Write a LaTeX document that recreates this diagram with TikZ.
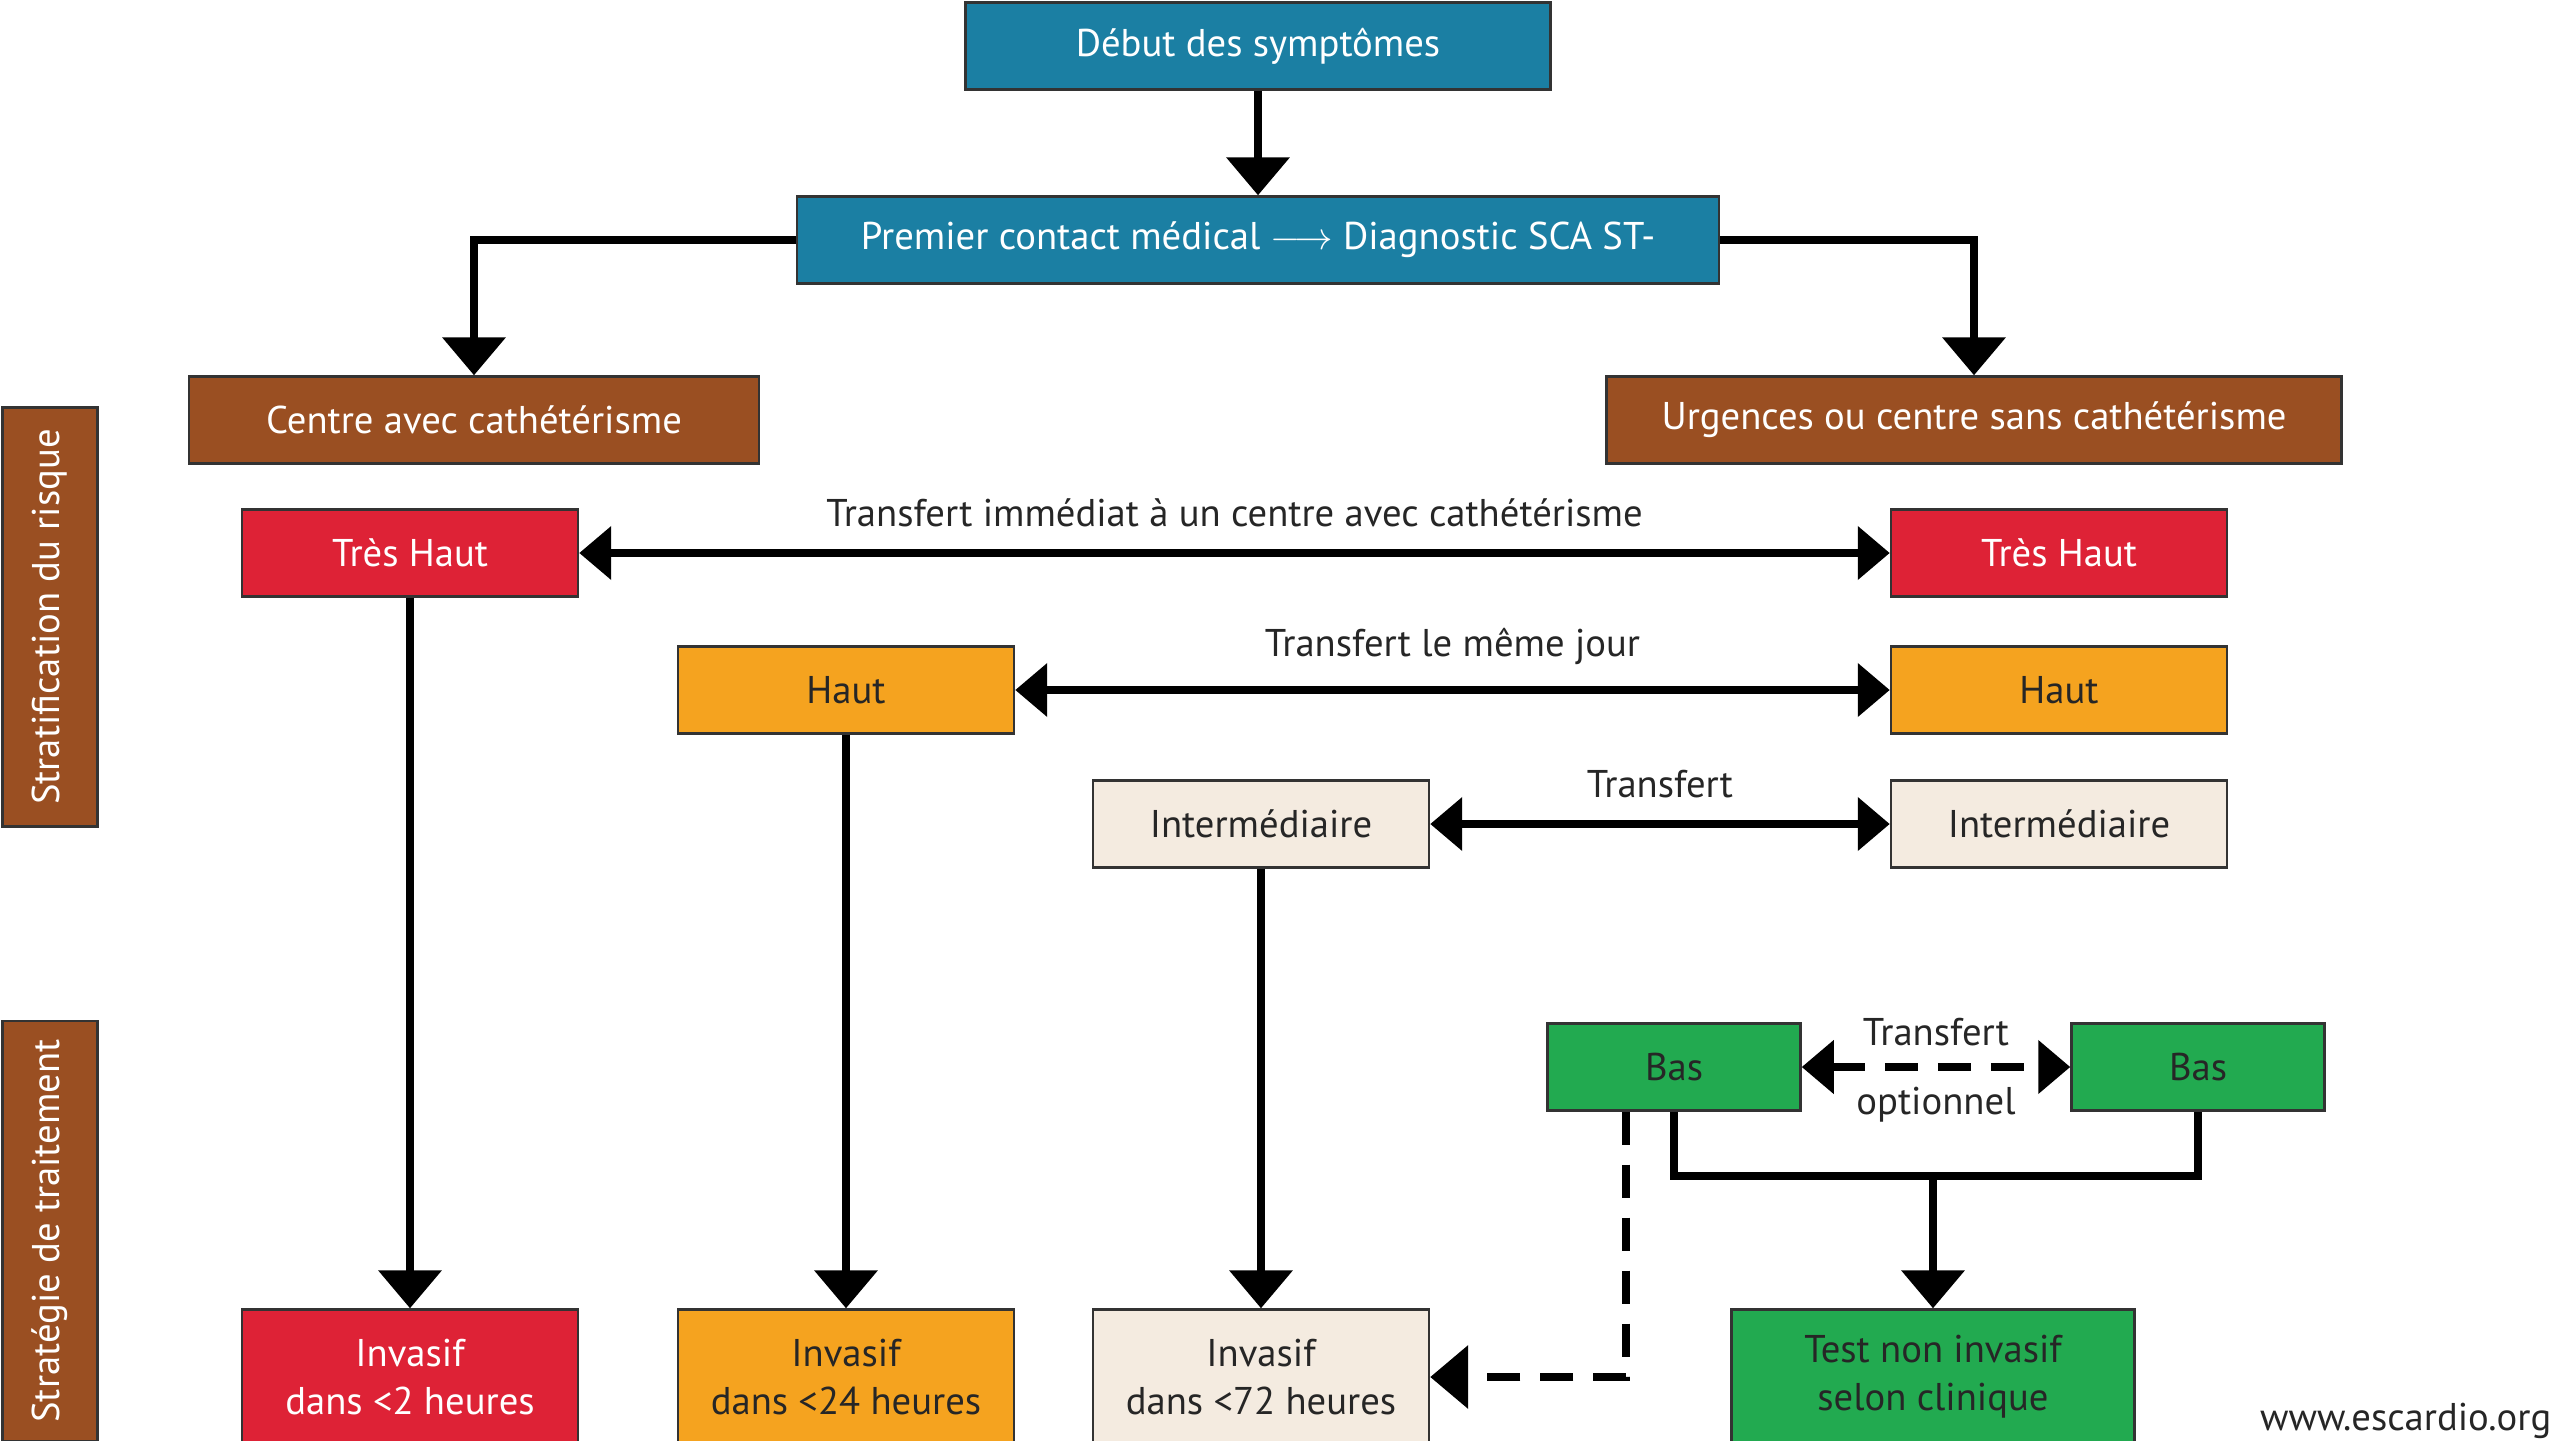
\documentclass[tikz,border=0pt]{standalone}
\usepackage{fontspec}
\setmainfont{PT Sans}
\usetikzlibrary{arrows.meta}
\definecolor{escblue}{HTML}{1B7FA3}
\definecolor{escbrown}{HTML}{9A4F22}
\definecolor{escred}{HTML}{DE2236}
\definecolor{escorange}{HTML}{F5A31F}
\definecolor{escbeige}{HTML}{F4EBE0}
\definecolor{escgreen}{HTML}{22AA50}

\begin{document}
\begin{tikzpicture}
\tikzset{box/.style={draw=black!80,line width=0.7pt,minimum height=0.87cm,inner sep=2pt,align=center,font=\fontsize{11}{13.6}\selectfont}}
\tikzset{bluebox/.style={box,fill=escblue,text=white},brownbox/.style={box,fill=escbrown,text=white}}
\tikzset{redbox/.style={box,fill=escred,text=white,minimum width=3.36cm},orangebox/.style={box,fill=escorange,text=black!85,minimum width=3.36cm}}
\tikzset{beigebox/.style={box,fill=escbeige,text=black!85,minimum width=3.36cm},greenbox/.style={box,fill=escgreen,text=black!85}}
\tikzset{link/.style={line width=2.2pt,-{Triangle[width=0.62cm,length=0.38cm]}}}
\tikzset{twoway/.style={line width=2.2pt,{Triangle[width=0.52cm,length=0.32cm]}-{Triangle[width=0.52cm,length=0.32cm]}}}
\tikzset{dashy/.style={dash pattern=on 0.33cm off 0.2cm},lbl/.style={font=\fontsize{11}{13.6}\selectfont,text=black!85}}
\useasboundingbox (0,0) rectangle (25.6,-14.4);
% top of the chart
\node[bluebox,minimum width=5.85cm] (debut) at (12.58,-0.46) {Début des symptômes};
\node[bluebox,minimum width=9.22cm] (premier) at (12.58,-2.40) {Premier contact médical \ensuremath{\longrightarrow} Diagnostic SCA ST-};
\node[brownbox,minimum width=5.70cm] (centre) at (4.74,-4.20) {Centre avec cathétérisme};
\node[brownbox,minimum width=7.35cm] (urgences) at (19.74,-4.20) {Urgences ou centre sans cathétérisme};
% side bars
\node[brownbox,rotate=90,minimum width=4.19cm,minimum height=0.95cm] (stratif) at (0.50,-6.17) {Stratification du risque};
\node[brownbox,rotate=90,minimum width=4.20cm,minimum height=0.95cm] (strateg) at (0.50,-12.31) {Stratégie de traitement};
% risk levels
\node[redbox] (tresL) at (4.10,-5.53) {Très Haut};
\node[redbox] (tresR) at (20.59,-5.53) {Très Haut};
\node[orangebox] (hautL) at (8.46,-6.90) {Haut};
\node[orangebox] (hautR) at (20.59,-6.90) {Haut};
\node[beigebox] (interL) at (12.61,-8.24) {Intermédiaire};
\node[beigebox] (interR) at (20.59,-8.24) {Intermédiaire};
\node[greenbox,minimum width=2.53cm] (basL) at (16.74,-10.67) {Bas};
\node[greenbox,minimum width=2.53cm] (basR) at (21.98,-10.67) {Bas};
% treatment
\node[redbox,minimum height=1.35cm] (inv1) at (4.10,-13.77) {Invasif\\dans <2 heures};
\node[orangebox,minimum height=1.35cm] (inv2) at (8.46,-13.77) {Invasif\\dans <24 heures};
\node[beigebox,minimum height=1.35cm] (inv3) at (12.61,-13.77) {Invasif\\dans <72 heures};
\node[greenbox,minimum width=4.03cm,minimum height=1.35cm] (test) at (19.33,-13.77) {Test non invasif\\selon clinique};
\node[lbl,anchor=base east,inner sep=0pt] (web) at (25.52,-14.30) {www.escardio.org};
\coordinate (join) at (19.33,-11.76);
% connectors
\draw[link] (debut) -- (premier);
\draw[link] (premier.west) -| (centre.north);
\draw[link] (premier.east) -| (urgences.north);
\draw[twoway] (tresL) -- node[lbl,above=0.1cm] {Transfert immédiat à un centre avec cathétérisme} (tresR);
\draw[twoway] (hautL) -- node[lbl,above=0.1cm] {Transfert le même jour} (hautR);
\draw[twoway] (interL) -- node[lbl,above=0.1cm] {Transfert} (interR);
\draw[twoway,dashy] (basL) -- node[lbl,above=0.05cm] {Transfert} node[lbl,below=0.05cm] {optionnel} (basR);
\draw[link] (tresL) -- (inv1);
\draw[link] (hautL) -- (inv2);
\draw[link] (interL) -- (inv3);
\draw[line width=2.2pt] (basL.south) |- (join) -| (basR.south);
\draw[link] (join) -- (test);
\draw[link,dashy] ([xshift=-0.48cm]basL.south) |- (inv3.east);
\end{tikzpicture}
\end{document}
